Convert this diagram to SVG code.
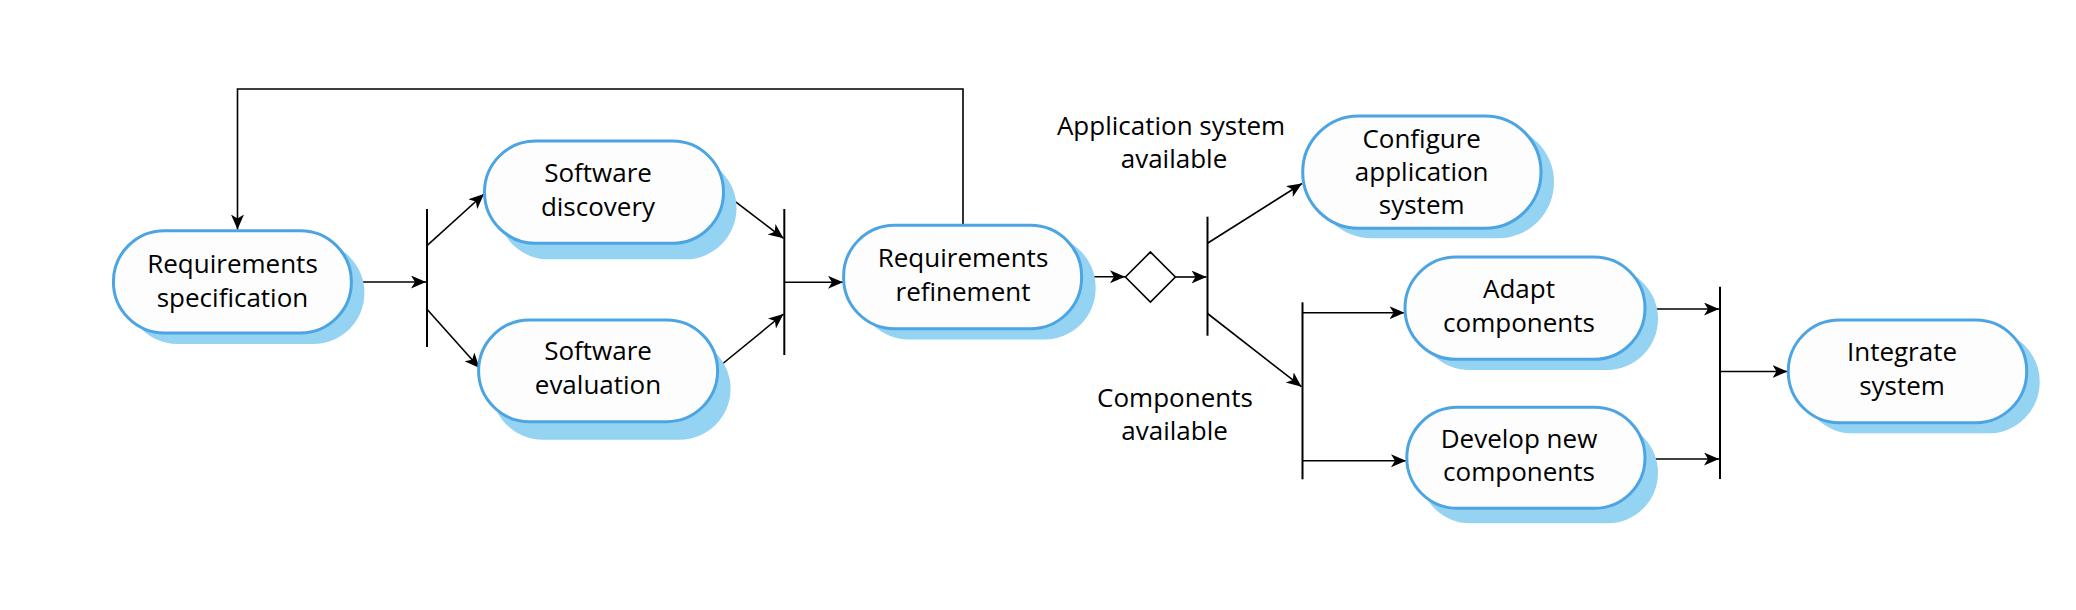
<svg xmlns="http://www.w3.org/2000/svg" width="2076" height="610" viewBox="0 0 2076 610">
<style>
.shadow{fill:#94d3f1;stroke:none}
.node{fill:#fdfdfd;stroke:#4ca5e2;stroke-width:3}
.t{font-family:"Open Sans","Noto Sans",sans-serif;font-size:26px;fill:#000;text-anchor:middle}
.c{fill:none;stroke:#000;stroke-width:1.6}
.bar{fill:none;stroke:#000;stroke-width:2}
</style>
<defs>
<marker id="ah" markerUnits="userSpaceOnUse" markerWidth="16" markerHeight="14" refX="15" refY="6.5" orient="auto">
<path d="M0,0 L15,6.5 L0,13 L4,6.5 z" fill="#000"/>
</marker>
</defs>
<rect width="2076" height="610" fill="#fff"/>
<g id="connectors">
<path class="c" d="M963,225 V89 H237.5 V229.5" marker-end="url(#ah)"/>
<path class="c" d="M352,282 H426" marker-end="url(#ah)"/>
<line class="bar" x1="427" y1="209" x2="427" y2="347"/>
<path class="c" d="M427,245.7 L484,194" marker-end="url(#ah)"/>
<path class="c" d="M427,309.3 L479.5,368" marker-end="url(#ah)"/>
<path class="c" d="M723.5,192.7 L783.5,238.3" marker-end="url(#ah)"/>
<path class="c" d="M717.4,368 L783.5,314" marker-end="url(#ah)"/>
<line class="bar" x1="784.3" y1="209" x2="784.3" y2="355"/>
<path class="c" d="M784.3,282.3 H843" marker-end="url(#ah)"/>
<path class="c" d="M1082,276.8 H1125" marker-end="url(#ah)"/>
<polygon points="1125.4,277 1150.4,252 1175.4,277 1150.4,302" fill="#fff" stroke="#000" stroke-width="1.6"/>
<path class="c" d="M1175.4,277 H1206.5" marker-end="url(#ah)"/>
<line class="bar" x1="1207.5" y1="216.7" x2="1207.5" y2="335.7"/>
<path class="c" d="M1207.5,243.3 L1302,183.5" marker-end="url(#ah)"/>
<path class="c" d="M1207.5,313.5 L1301.5,386.7" marker-end="url(#ah)"/>
<line class="bar" x1="1302.5" y1="302.3" x2="1302.5" y2="479.3"/>
<path class="c" d="M1302.5,312.7 H1404.5" marker-end="url(#ah)"/>
<path class="c" d="M1302.5,460.7 H1406" marker-end="url(#ah)"/>
<path class="c" d="M1645,309 H1719" marker-end="url(#ah)"/>
<path class="c" d="M1645,459 H1719" marker-end="url(#ah)"/>
<line class="bar" x1="1720" y1="286.7" x2="1720" y2="479"/>
<path class="c" d="M1720,371.5 H1787.5" marker-end="url(#ah)"/>
</g>
<g id="node-spec">
<rect class="shadow" x="126.4" y="241.7" width="238" height="102.3" rx="51"/>
<rect class="node" x="113.4" y="230.7" width="238" height="102.3" rx="51"/>
<text class="t" x="232.5" y="273">Requirements</text>
<text class="t" x="232.5" y="306.5">specification</text>
</g>
<g id="node-discovery">
<rect class="shadow" x="497.5" y="157" width="239" height="102.3" rx="51"/>
<rect class="node" x="484.5" y="141" width="239" height="102.3" rx="51"/>
<text class="t" x="598" y="182">Software</text>
<text class="t" x="598" y="215.5">discovery</text>
</g>
<g id="node-evaluation">
<rect class="shadow" x="491.6" y="338" width="239" height="101.7" rx="51"/>
<rect class="node" x="478.6" y="320" width="239" height="101.7" rx="51"/>
<text class="t" x="598" y="360">Software</text>
<text class="t" x="598" y="394">evaluation</text>
</g>
<g id="node-refinement">
<rect class="shadow" x="857.6" y="236" width="238" height="103.4" rx="51"/>
<rect class="node" x="843.6" y="225.3" width="238" height="103.4" rx="51"/>
<text class="t" x="963" y="266.7">Requirements</text>
<text class="t" x="963" y="300.5">refinement</text>
</g>
<g id="label-app">
<text class="t" x="1171" y="135">Application system</text>
<text class="t" x="1174" y="168.3">available</text>
</g>
<g id="node-configure">
<rect class="shadow" x="1315.7" y="126" width="238.3" height="112.3" rx="56"/>
<rect class="node" x="1302.7" y="116" width="238.3" height="112.3" rx="56"/>
<text class="t" x="1421.7" y="147.7">Configure</text>
<text class="t" x="1421.7" y="181">application</text>
<text class="t" x="1421.7" y="213.8">system</text>
</g>
<g id="label-comp">
<text class="t" x="1175" y="406.7">Components</text>
<text class="t" x="1174.6" y="440">available</text>
</g>
<g id="node-adapt">
<rect class="shadow" x="1418" y="267.7" width="240" height="102.3" rx="51"/>
<rect class="node" x="1405" y="257" width="240" height="102.3" rx="51"/>
<text class="t" x="1519" y="298.3">Adapt</text>
<text class="t" x="1519" y="331.7">components</text>
</g>
<g id="node-develop">
<rect class="shadow" x="1419.8" y="422.3" width="238.2" height="101" rx="50.5"/>
<rect class="node" x="1406.8" y="407.3" width="238.2" height="101" rx="50.5"/>
<text class="t" x="1519" y="448.3">Develop new</text>
<text class="t" x="1519" y="481">components</text>
</g>
<g id="node-integrate">
<rect class="shadow" x="1801.3" y="330.6" width="238.4" height="102.7" rx="51"/>
<rect class="node" x="1788.3" y="320" width="238.4" height="102.7" rx="51"/>
<text class="t" x="1902" y="360.7">Integrate</text>
<text class="t" x="1902" y="394.5">system</text>
</g>
</svg>
